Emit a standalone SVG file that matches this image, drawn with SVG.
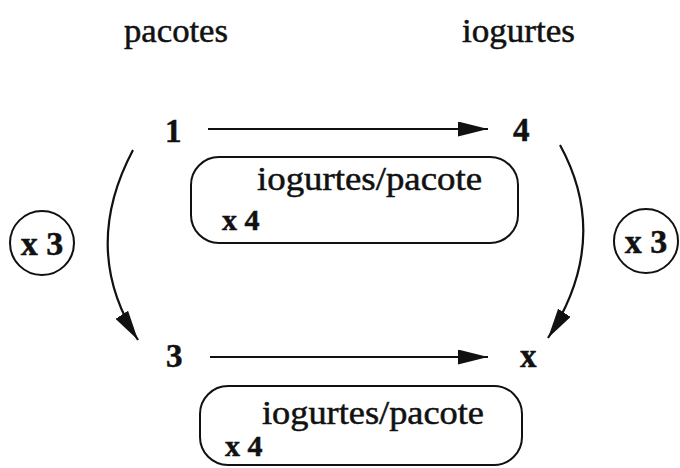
<svg xmlns="http://www.w3.org/2000/svg" width="680" height="468" viewBox="0 0 680 468">
  <style>
    text { font-family: "Liberation Serif", "DejaVu Serif", serif; fill: #111; stroke: #111; stroke-width: 0.5; }
    .head { font-size: 33px; }
    .num { font-size: 33px; font-weight: bold; }
    .unit { font-size: 33px; }
    .mult { font-size: 30px; font-weight: bold; }
    .factor { font-size: 34px; font-weight: bold; }
    .box { fill: none; stroke: #111; stroke-width: 2; }
    .conn { fill: none; stroke: #111; stroke-width: 2.2; }
  </style>
  <defs>
    <marker id="arrow" markerUnits="userSpaceOnUse" markerWidth="32" markerHeight="16" refX="30" refY="7.5" orient="auto">
      <path d="M0,0 L30,7.5 L0,15 Z" fill="#111"/>
    </marker>
  </defs>
  <rect width="680" height="468" fill="#fff"/>

  <!-- column headings -->
  <g id="head-pacotes"><text class="head" x="124" y="42" textLength="104" lengthAdjust="spacingAndGlyphs">pacotes</text></g>
  <g id="head-iogurtes"><text class="head" x="462" y="42" textLength="113" lengthAdjust="spacingAndGlyphs">iogurtes</text></g>

  <!-- quantities -->
  <g id="n1"><text class="num" x="165" y="142">1</text></g>
  <g id="n4"><text class="num" x="513" y="141">4</text></g>
  <g id="n3"><text class="num" x="166" y="367">3</text></g>
  <g id="nx"><text class="num" x="520" y="367">x</text></g>

  <!-- rate boxes -->
  <g id="rate-top">
    <rect class="box" x="191" y="157" width="327" height="86" rx="28" ry="28"/>
    <text class="unit" x="257" y="190" textLength="225" lengthAdjust="spacingAndGlyphs">iogurtes/pacote</text>
    <text class="mult" x="222" y="230">x 4</text>
  </g>
  <g id="rate-bottom">
    <rect class="box" x="200" y="386" width="322" height="79" rx="28" ry="28"/>
    <text class="unit" x="262" y="424" textLength="222" lengthAdjust="spacingAndGlyphs">iogurtes/pacote</text>
    <text class="mult" x="225" y="456">x 4</text>
  </g>

  <!-- scale factors -->
  <g id="factor-left">
    <circle class="box" cx="42" cy="243" r="32"/>
    <text class="factor" x="42" y="255" text-anchor="middle">x 3</text>
  </g>
  <g id="factor-right">
    <circle class="box" cx="646" cy="241" r="32"/>
    <text class="factor" x="646" y="253" text-anchor="middle">x 3</text>
  </g>

  <!-- connectors -->
  <g id="connectors">
    <line class="conn" x1="208" y1="129" x2="488" y2="129" marker-end="url(#arrow)"/>
    <line class="conn" x1="210" y1="357" x2="488" y2="357" marker-end="url(#arrow)"/>
    <path class="conn" d="M133,150 Q80,250 138,340" marker-end="url(#arrow)"/>
    <path class="conn" d="M560,145 Q612,240 548,338" marker-end="url(#arrow)"/>
  </g>
</svg>
